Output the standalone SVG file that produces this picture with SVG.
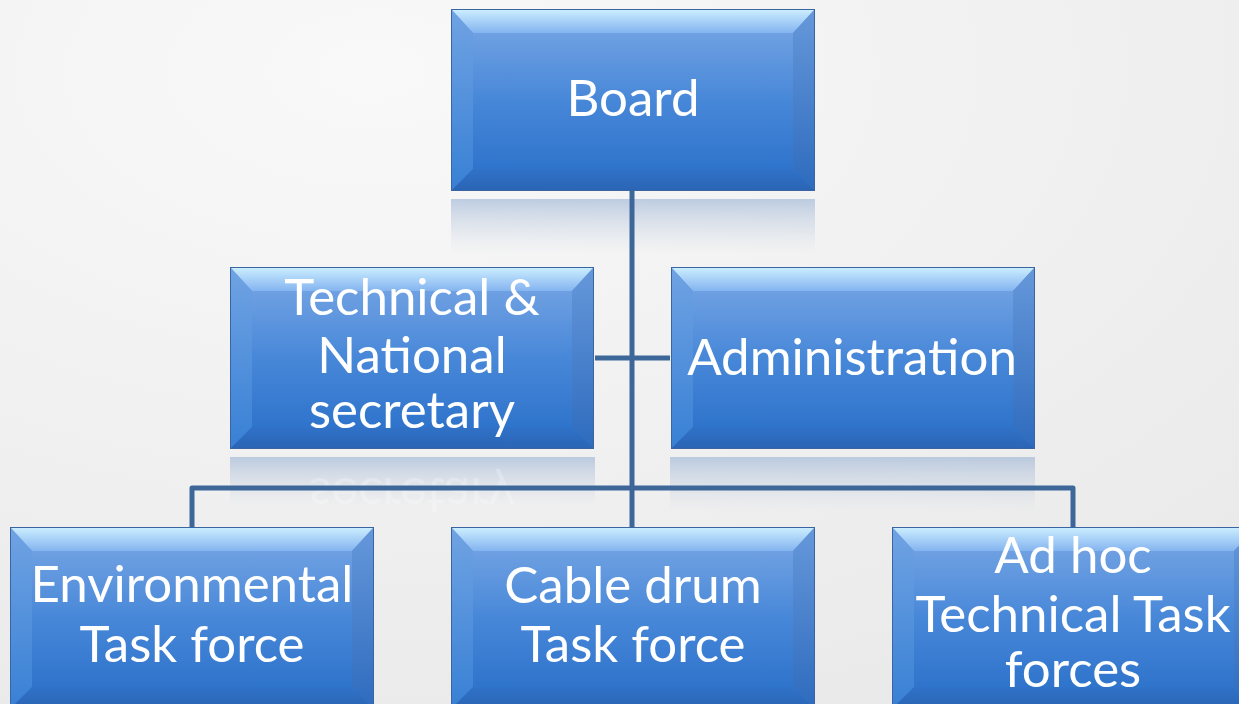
<svg xmlns="http://www.w3.org/2000/svg" xmlns:xlink="http://www.w3.org/1999/xlink" width="1239" height="704" viewBox="0 0 1239 704">
<defs>
<radialGradient id="bg" cx="0.3" cy="0.1" r="1.1">
<stop offset="0" stop-color="#f9f9f9"/>
<stop offset="1" stop-color="#e8e8e8"/>
</radialGradient>
<linearGradient id="face" x1="0" y1="0" x2="0" y2="1">
<stop offset="0" stop-color="#6ea0e2"/>
<stop offset="0.5" stop-color="#4787d8"/>
<stop offset="1" stop-color="#2f74cc"/>
</linearGradient>
<linearGradient id="topB" x1="0" y1="0" x2="0" y2="1">
<stop offset="0" stop-color="#cdefff"/>
<stop offset="1" stop-color="#84b4f0"/>
</linearGradient>
<linearGradient id="leftB" x1="0" y1="0" x2="0" y2="1">
<stop offset="0" stop-color="#70a3e3"/>
<stop offset="1" stop-color="#3880d5"/>
</linearGradient>
<linearGradient id="rightB" x1="0" y1="0" x2="0" y2="1">
<stop offset="0" stop-color="#6698da"/>
<stop offset="1" stop-color="#2e6bbe"/>
</linearGradient>
<linearGradient id="botB" x1="0" y1="0" x2="0" y2="1">
<stop offset="0" stop-color="#3072c8"/>
<stop offset="1" stop-color="#2a64b4"/>
</linearGradient>
<linearGradient id="refl" x1="0" y1="0" x2="0" y2="1">
<stop offset="0" stop-color="#9fb6d6" stop-opacity="0.65"/>
<stop offset="1" stop-color="#c8d3e2" stop-opacity="0"/>
</linearGradient>
<g id="box">
<rect x="0" y="0" width="364" height="182" fill="url(#face)"/>
<polygon points="0,0 364,0 342,24 22,24" fill="url(#topB)"/>
<polygon points="0,0 22,24 22,160 0,182" fill="url(#leftB)"/>
<polygon points="364,0 364,182 342,160 342,24" fill="url(#rightB)"/>
<polygon points="0,182 22,160 342,160 364,182" fill="url(#botB)"/>
<rect x="22" y="24" width="320" height="136" fill="url(#face)"/>
<rect x="0.5" y="0.5" width="363" height="181" fill="none" stroke="#3a65a0" stroke-width="1"/>
</g>
<style>
.lbl{font-family:Lato,"Open Sans","Liberation Sans",sans-serif;font-size:51px;fill:#ffffff;text-anchor:middle}
.conn{fill:none;stroke:#3d6799;stroke-width:5;stroke-linejoin:round}
</style>
</defs>
<rect width="1239" height="704" fill="url(#bg)"/>
<g id="reflections">
<rect x="451" y="199" width="364" height="55" fill="url(#refl)"/>
<rect x="230" y="457" width="365" height="50" fill="url(#refl)"/>
<rect x="670" y="457" width="365" height="55" fill="url(#refl)"/>
<text class="lbl" x="412" y="-478" transform="scale(1,-1)" style="fill:#ffffff;opacity:0.25">secretary</text>
</g>
<g id="connectors">
<path class="conn" d="M632,191 V527"/>
<path class="conn" d="M595,358 H670"/>
<path class="conn" d="M192,527 V488 H1073 V527"/>
</g>
<g id="node-board" transform="translate(451,9)">
<use xlink:href="#box"/>
<text class="lbl" x="182" y="107">Board</text>
</g>
<g id="node-technical" transform="translate(230,267)">
<use xlink:href="#box"/>
<text class="lbl" x="182" y="48">Technical &amp;</text>
<text class="lbl" x="182" y="106">National</text>
<text class="lbl" x="182" y="161">secretary</text>
</g>
<g id="node-admin" transform="translate(671,267)">
<use xlink:href="#box"/>
<text class="lbl" x="181" y="108">Administration</text>
</g>
<g id="node-env" transform="translate(10,527)">
<use xlink:href="#box"/>
<text class="lbl" x="182" y="75">Environmental</text>
<text class="lbl" x="182" y="135">Task force</text>
</g>
<g id="node-cable" transform="translate(451,527)">
<use xlink:href="#box"/>
<text class="lbl" x="182" y="76">Cable drum</text>
<text class="lbl" x="182" y="135">Task force</text>
</g>
<g id="node-adhoc" transform="translate(892,527)">
<use xlink:href="#box"/>
<text class="lbl" x="181" y="46">Ad hoc</text>
<text class="lbl" x="181" y="105">Technical Task</text>
<text class="lbl" x="181" y="160">forces</text>
</g>
</svg>
